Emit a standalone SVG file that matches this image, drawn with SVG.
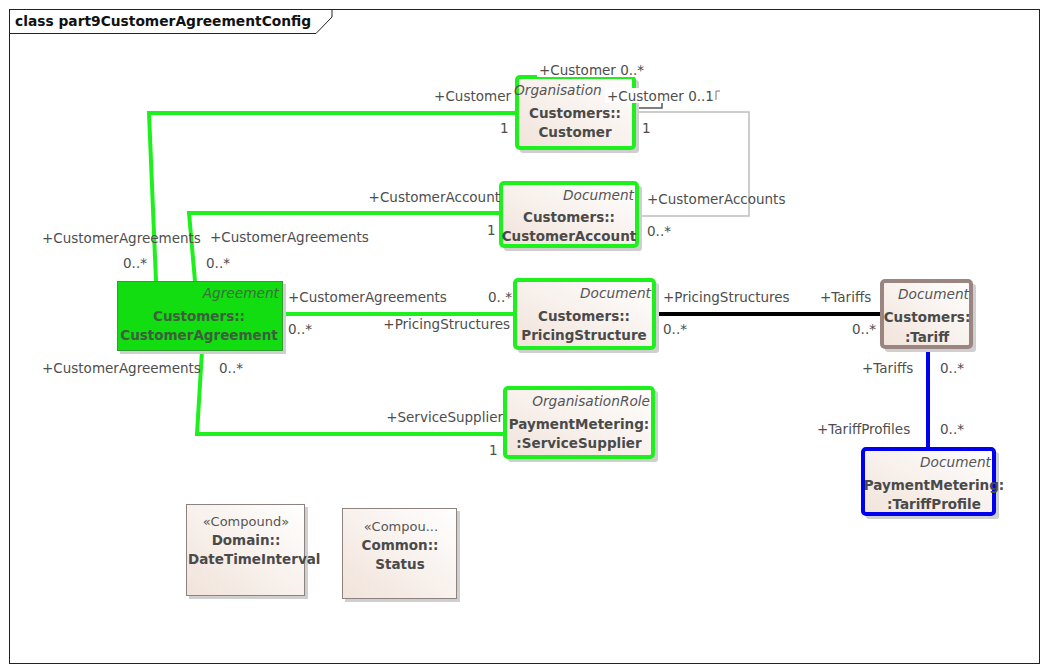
<svg xmlns="http://www.w3.org/2000/svg" width="1047" height="671" viewBox="0 0 1047 671">
<defs>
<linearGradient id="nf" x1="0" y1="1" x2="1" y2="0">
<stop offset="0" stop-color="#F1E3DA"/>
<stop offset="1" stop-color="#FFFFFF"/>
</linearGradient>
</defs>
<style>
.frame{fill:#fff;stroke:#222;stroke-width:1}
.title{font-family:"DejaVu Sans",sans-serif;font-weight:bold;font-size:13.8px;fill:#111}
.node{fill:url(#nf)}
.g{stroke:#1EF01E;stroke-width:4}
.shadow{fill:#CFCFCF}
.st{font-family:"DejaVu Sans",sans-serif;font-style:italic;font-size:13.7px;fill:#555;text-anchor:end}
.nm{font-family:"DejaVu Sans",sans-serif;font-weight:bold;font-size:13.5px;fill:#4A4A4A;text-anchor:middle}
.cs{font-family:"DejaVu Sans",sans-serif;font-size:13px;fill:#555;text-anchor:middle}
.lb{font-family:"DejaVu Sans",sans-serif;font-size:13.5px;fill:#4E4E4E}
.r{text-anchor:end}
.cg{fill:none;stroke:#1EF01E;stroke-width:4;stroke-linejoin:miter}
</style>
<rect class="frame" x="9.5" y="9.5" width="1030" height="654"/>
<path d="M9.5,33.5 H316 L332,17 V9.5" fill="none" stroke="#222" stroke-width="1"/>
<text class="title" x="15" y="26">class part9CustomerAgreementConfig</text>

<g id="connectors">
<path class="cg" d="M517,113 H149 L156,281"/>
<path class="cg" d="M501,213 H189 L195,281"/>
<path class="cg" d="M283,314 H515"/>
<path class="cg" d="M202,351 L197,434 H505"/>
<path d="M654,314 H882" fill="none" stroke="#000" stroke-width="4"/>
<path d="M928,347 V449" fill="none" stroke="#0000EE" stroke-width="4"/>
<path d="M636,112 H749 V216 H639" fill="none" stroke="#BDBDBD" stroke-width="1.5"/>
<path d="M636,108 H662 V102" fill="none" stroke="#555" stroke-width="1.5"/>
<path d="M716,100 V91 H720" fill="none" stroke="#777" stroke-width="1"/>
</g>

<g id="node-customer">
<rect class="shadow" x="520" y="80" width="119" height="73" rx="3"/>
<rect class="node g" x="517" y="77" width="117" height="71" rx="3"/>
<text class="st" x="514" y="95" style="text-anchor:start">Organisation</text>
<text class="nm" x="575" y="118">Customers::</text>
<text class="nm" x="575" y="137">Customer</text>
</g>

<g id="node-customeraccount">
<rect class="shadow" x="504" y="186" width="138" height="65" rx="3"/>
<rect class="node g" x="501" y="183" width="136" height="63" rx="3"/>
<text class="st" x="634" y="200">Document</text>
<text class="nm" x="569" y="222">Customers::</text>
<text class="nm" x="569" y="241">CustomerAccount</text>
</g>

<g id="node-customeragreement">
<rect class="shadow" x="120" y="284" width="166" height="70"/>
<rect x="117.5" y="281.5" width="165" height="69" fill="#11DD11" stroke="#2E9E2E" stroke-width="1"/>
<text class="st" x="279" y="298" style="fill:#3B6E3B">Agreement</text>
<text class="nm" x="199" y="321" style="fill:#3E5E3E">Customers::</text>
<text class="nm" x="199" y="340" style="fill:#3E5E3E">CustomerAgreement</text>
</g>

<g id="node-pricingstructure">
<rect class="shadow" x="518" y="283" width="141" height="70" rx="3"/>
<rect class="node g" x="515" y="280" width="139" height="68" rx="3"/>
<text class="st" x="651" y="298">Document</text>
<text class="nm" x="584" y="321">Customers::</text>
<text class="nm" x="584" y="340">PricingStructure</text>
</g>

<g id="node-tariff">
<rect class="shadow" x="885" y="284" width="91" height="68" rx="3"/>
<rect class="node" x="882" y="281" width="89" height="66" rx="3" stroke="#9B8581" stroke-width="4"/>
<text class="st" x="969" y="299">Document</text>
<text class="nm" x="927" y="322">Customers:</text>
<text class="nm" x="927" y="342">:Tariff</text>
</g>

<g id="node-servicesupplier">
<rect class="shadow" x="508" y="391" width="150" height="71" rx="3"/>
<rect class="node g" x="505" y="388" width="148" height="69" rx="3"/>
<text class="st" x="650" y="406">OrganisationRole</text>
<text class="nm" x="579" y="429">PaymentMetering:</text>
<text class="nm" x="579" y="448">:ServiceSupplier</text>
</g>

<g id="node-tariffprofile">
<rect class="shadow" x="866" y="452" width="133" height="67" rx="3"/>
<rect class="node" x="863" y="449" width="131" height="65" rx="3" stroke="#0000EE" stroke-width="4"/>
<text class="st" x="991" y="467">Document</text>
<text class="nm" x="934" y="490">PaymentMetering:</text>
<text class="nm" x="934" y="509">:TariffProfile</text>
</g>

<g id="node-datetimeinterval">
<rect class="shadow" x="189" y="507" width="119" height="92"/>
<rect class="node" x="186.5" y="504.5" width="118" height="91" stroke="#8E8280" stroke-width="1"/>
<text class="cs" x="246" y="526">«Compound»</text>
<text class="nm" x="246" y="545">Domain::</text>
<text class="nm" x="188" y="564" style="text-anchor:start">DateTimeInterval</text>
</g>

<g id="node-status">
<rect class="shadow" x="345" y="511" width="115" height="91"/>
<rect class="node" x="342.5" y="508.5" width="114" height="90" stroke="#8E8280" stroke-width="1"/>
<text class="cs" x="401" y="531">«Compou...</text>
<text class="nm" x="400" y="550">Common::</text>
<text class="nm" x="400" y="569">Status</text>
</g>

<g id="connector-labels">
<text class="lb r" x="511" y="101">+Customer</text>
<text class="lb" x="500" y="133">1</text>
<rect x="537" y="62" width="107" height="15" fill="#fff"/>
<text class="lb" x="539" y="75">+Customer 0..*</text>
<rect x="605" y="88" width="108" height="15" fill="#fff"/>
<text class="lb" x="607" y="101">+Customer 0..1</text>
<text class="lb" x="642" y="133">1</text>
<text class="lb r" x="500" y="202">+CustomerAccount</text>
<text class="lb" x="487" y="235">1</text>
<text class="lb" x="647" y="204">+CustomerAccounts</text>
<text class="lb" x="647" y="236">0..*</text>
<text class="lb" x="42" y="243">+CustomerAgreements</text>
<text class="lb" x="123" y="268">0..*</text>
<text class="lb" x="210" y="242">+CustomerAgreements</text>
<text class="lb" x="206" y="268">0..*</text>
<text class="lb" x="288" y="302">+CustomerAgreements</text>
<text class="lb" x="288" y="334">0..*</text>
<text class="lb" x="488" y="302">0..*</text>
<text class="lb r" x="510" y="329">+PricingStructures</text>
<text class="lb" x="42" y="373">+CustomerAgreements</text>
<text class="lb" x="219" y="373">0..*</text>
<text class="lb r" x="503" y="422">+ServiceSupplier</text>
<text class="lb" x="489" y="455">1</text>
<text class="lb" x="663" y="302">+PricingStructures</text>
<text class="lb" x="663" y="334">0..*</text>
<text class="lb" x="820" y="302">+Tariffs</text>
<text class="lb" x="852" y="334">0..*</text>
<text class="lb" x="862" y="373">+Tariffs</text>
<text class="lb" x="940" y="373">0..*</text>
<text class="lb" x="817" y="434">+TariffProfiles</text>
<text class="lb" x="940" y="434">0..*</text>
</g>
</svg>
